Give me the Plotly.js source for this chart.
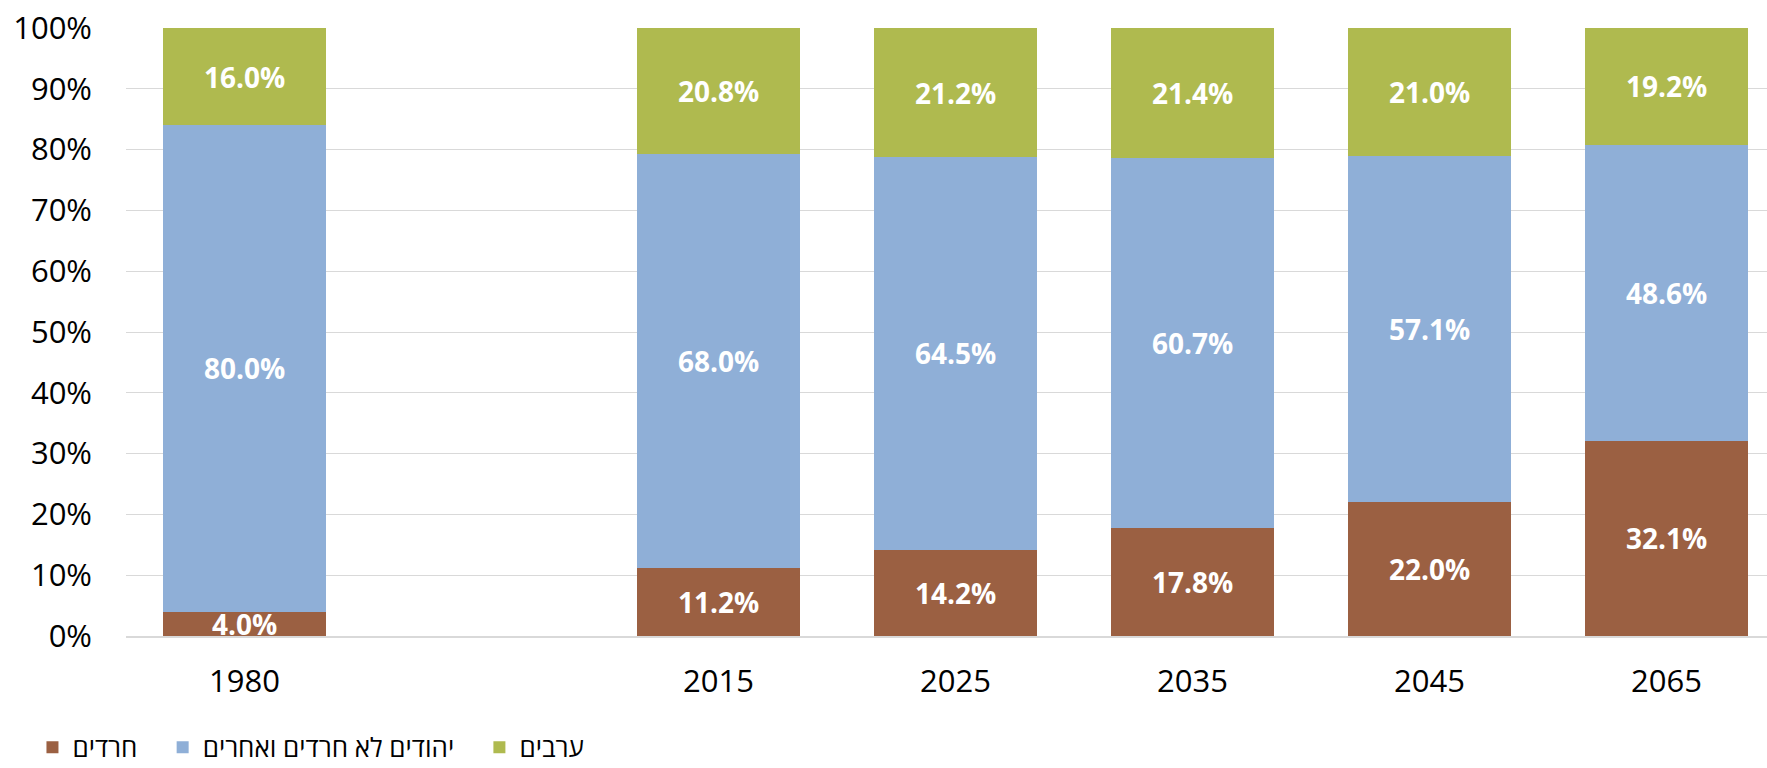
<!DOCTYPE html>
<html>
<head>
<meta charset="utf-8">
<script src="https://cdn.plot.ly/plotly-3.0.1.min.js"></script>
<style>
html,body{margin:0;padding:0;background:#fff;}
#chart{width:1767px;height:768px;}
</style>
</head>
<body>
<div id="chart"></div>
<script>
var categories = ["1980", " ", "2015", "2025", "2035", "2045", "2065"];
var haredim   = [4.0, null, 11.2, 14.2, 17.8, 22.0, 32.1];
var jewsOther = [80.0, null, 68.0, 64.5, 60.7, 57.1, 48.6];
var arabs     = [16.0, null, 20.8, 21.2, 21.4, 21.0, 19.2];
var seriesNames = ["חרדים", "יהודים לא חרדים ואחרים", "ערבים"];
var seriesColors = ["#9B6042", "#8FAFD7", "#AFBA4F"];
var yTickVals = [0,10,20,30,40,50,60,70,80,90,100];

var series = [haredim, jewsOther, arabs];
var labelFont = {family: "Open Sans, Noto Sans, sans-serif", size: 28, color: "#ffffff", weight: "bold"};
var traces = series.map(function(vals, i) {
  return {
    type: "bar",
    name: seriesNames[i] + "\u00a0\u00a0\u00a0",
    x: categories,
    y: vals,
    text: vals.map(function(v){ return v === null ? "" : v.toFixed(1) + "%"; }),
    textposition: "inside",
    insidetextanchor: "middle",
    textangle: 0,
    constraintext: "none",
    textfont: labelFont,
    marker: {color: seriesColors[i], line: {width: 0}},
    hoverinfo: "none"
  };
});

var layout = {
  width: 1767, height: 768,
  margin: {l: 126, r: 0, t: 28, b: 131.5, autoexpand: false},
  barmode: "stack",
  barnorm: "percent",
  bargap: 0.312,
  paper_bgcolor: "#ffffff",
  plot_bgcolor: "#ffffff",
  font: {family: "Open Sans, Noto Sans, sans-serif", color: "#000000"},
  uniformtext: {mode: "show", minsize: 28},
  xaxis: {
    type: "category",
    range: [-0.5, 6.424],
    showgrid: false,
    showline: true,
    linecolor: "#D9D9D9",
    linewidth: 2,
    ticks: "",
    ticklabelstandoff: 17,
    tickfont: {size: 31, color: "#000000"},
    fixedrange: true
  },
  yaxis: {
    range: [0, 100],
    tickvals: yTickVals,
    ticktext: yTickVals.map(function(v){ return v + "%"; }),
    showgrid: true,
    gridcolor: "#D9D9D9",
    gridwidth: 1,
    zeroline: false,
    showline: false,
    ticks: "",
    ticklabelstandoff: 33,
    tickfont: {size: 31, color: "#000000"},
    fixedrange: true
  },
  showlegend: true,
  legend: {
    orientation: "h",
    x: -0.057, xanchor: "left",
    y: -0.183, yanchor: "middle",
    font: {size: 26, color: "#000000"},
    itemwidth: 30,
    traceorder: "normal",
    bgcolor: "rgba(0,0,0,0)"
  }
};

Plotly.newPlot("chart", traces, layout, {displayModeBar: false, staticPlot: true});
</script>
</body>
</html>
